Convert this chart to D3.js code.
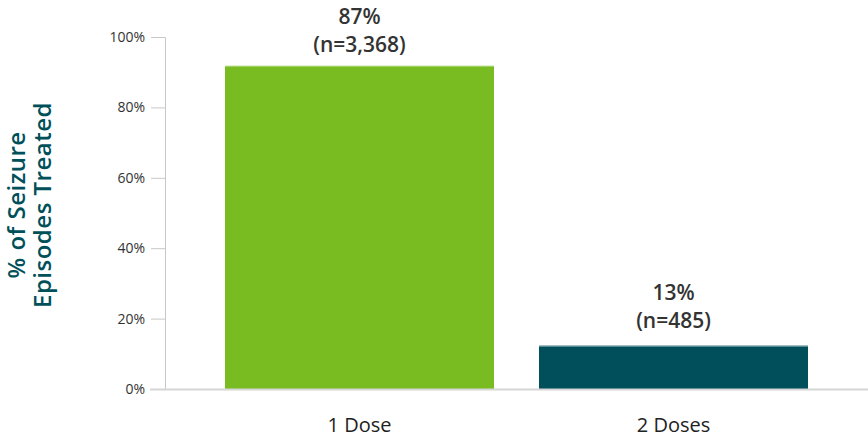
<!DOCTYPE html>
<html>
<head>
<meta charset="utf-8">
<script src="https://cdn.jsdelivr.net/npm/d3@7"></script>
<style>
  body { margin: 0; background: #fff; }
  svg { display: block; font-family: "Open Sans", sans-serif; }
</style>
</head>
<body>
<div id="chart"></div>
<script>
var width = 868
var height = 441
var margin = { top: 37, bottom: 52, left: 165, right: 0 };

// data
var categories = ["1 Dose", "2 Doses"];
var barHeights = [91.8, 12.3];          // height of the bars as drawn
var pctLabels = ["87%", "13%"];
var nLabels = ["(n=3,368)", "(n=485)"];
var yTicks = [0, 20, 40, 60, 80, 100];
var colors = ["#78bc22", "#004f5b"];
var edgeColors = ["#a9d56f", "#7fa8ae"];

var svg = d3.select("#chart").append("svg")
    .attr("width", width)
    .attr("height", height);

var x = d3.scaleBand()
    .domain(categories)
    .range([225, 808])
    .paddingInner(0.1433)
    .paddingOuter(0);

var y = d3.scaleLinear()
    .domain([0, 100])
    .range([height - margin.bottom, margin.top]);

// y axis
var yAxis = svg.append("g")
    .attr("transform", "translate(" + margin.left + ",0)")
    .call(d3.axisLeft(y).tickValues(yTicks).tickSize(14).tickPadding(6)
        .tickFormat(function(d) { return d + "%"; }));
yAxis.select(".domain").attr("stroke", "#c8c8c8");
yAxis.selectAll(".tick line").attr("stroke", "#c8c8c8");
yAxis.selectAll(".tick text")
    .attr("fill", "#333")
    .style("font-size", "14px")
    .style("font-family", "Open Sans, sans-serif");

// bars
svg.selectAll(".bar")
    .data(categories)
    .enter().append("rect")
    .attr("class", "bar")
    .attr("x", function(d) { return x(d); })
    .attr("width", x.bandwidth())
    .attr("y", function(d, i) { return y(barHeights[i]); })
    .attr("height", function(d, i) { return y(0) - y(barHeights[i]); })
    .attr("fill", function(d, i) { return colors[i]; });

// light top edge on the bars
svg.selectAll(".edge")
    .data(categories)
    .enter().append("line")
    .attr("class", "edge")
    .attr("x1", function(d) { return x(d); })
    .attr("x2", function(d) { return x(d) + x.bandwidth(); })
    .attr("y1", function(d, i) { return y(barHeights[i]) + 0.5; })
    .attr("y2", function(d, i) { return y(barHeights[i]) + 0.5; })
    .attr("stroke", function(d, i) { return edgeColors[i]; })
    .attr("stroke-width", 1);

// baseline
svg.append("line")
    .attr("x1", 150).attr("x2", width)
    .attr("y1", y(0) + 0.5).attr("y2", y(0) + 0.5)
    .attr("stroke", "#d6d6d6")
    .attr("stroke-width", 2);

// value labels
var labels = svg.selectAll(".val")
    .data(categories)
    .enter().append("g")
    .attr("class", "val")
    .attr("transform", function(d, i) {
        return "translate(" + (x(d) + x.bandwidth() / 2) + "," + (y(barHeights[i]) - (i == 0 ? 42 : 46)) + ")";
    });
labels.append("text")
    .attr("text-anchor", "middle")
    .attr("fill", "#333")
    .style("font-size", "21px")
    .style("font-weight", "600")
    .text(function(d, i) { return pctLabels[i]; });
labels.append("text")
    .attr("text-anchor", "middle")
    .attr("y", 28)
    .attr("fill", "#333")
    .style("font-size", "21px")
    .style("font-weight", "600")
    .text(function(d, i) { return nLabels[i]; });

// category labels
svg.selectAll(".cat")
    .data(categories)
    .enter().append("text")
    .attr("class", "cat")
    .attr("x", function(d) { return x(d) + x.bandwidth() / 2; })
    .attr("y", 432)
    .attr("text-anchor", "middle")
    .attr("fill", "#222")
    .style("font-size", "20px")
    .style("font-weight", "500")
    .text(function(d) { return d; });

// y axis title
var title = svg.append("text")
    .attr("transform", "translate(2,205) rotate(-90)")
    .attr("text-anchor", "middle")
    .attr("fill", "#00505a")
    .style("font-size", "24px")
    .style("font-weight", "600")
    .style("letter-spacing", "0.5px");
title.append("tspan").attr("x", 0).attr("y", 23).text("%  of  Seizure");
title.append("tspan").attr("x", 0).attr("y", 49).text("Episodes Treated");
</script>
</body>
</html>
